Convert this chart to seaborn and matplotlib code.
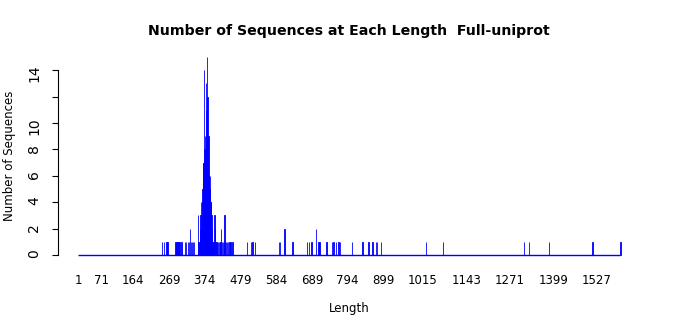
import numpy as np
import pandas as pd
import seaborn as sns
import matplotlib
matplotlib.use("Agg")
import matplotlib.pyplot as plt

# Sequence lengths with non-zero counts
lengths = [249, 253, 261, 264,
           288, 291, 294, 297, 300, 305,
           316, 319, 325, 328, 330, 333, 336, 340, 343,
           353, 355, 358, 360, 361, 363, 364, 366, 367, 368, 369, 370,
           371, 372, 373, 374, 375, 376, 377, 378, 379, 380, 381, 382,
           383, 384, 385, 386, 387, 388, 389, 390, 391, 392, 393, 394,
           395, 396, 397, 399, 400, 402, 404, 406, 408, 410, 412, 415,
           418, 420, 422, 424, 427, 430, 432, 434, 437, 440, 443, 447,
           450, 455,
           499, 510, 514, 522, 593, 596, 608, 632, 675, 680, 688, 700,
           708, 711, 732, 748, 752, 760, 767, 772, 807, 838, 855, 867,
           877, 880, 892, 1024, 1074, 1313, 1328, 1386, 1514, 1596]
counts = [1, 1, 1, 1,
          1, 1, 1, 1, 1, 1,
          1, 1, 1, 1, 2, 1, 1, 1, 1,
          3, 1, 1, 2, 3, 4, 2, 4, 5, 7, 6, 7,
          5, 14, 8, 6, 9, 7, 13, 11, 8, 9, 15, 12,
          9, 8, 9, 6, 6, 5, 6, 5, 4, 4, 2, 3,
          1, 2, 1, 1, 1, 3, 2, 1, 1, 1, 1, 1,
          1, 1, 2, 1, 1, 1, 3, 1, 1, 1, 1, 1,
          1, 1,
          1, 1, 1, 1, 1, 1, 2, 1, 1, 1, 1, 2,
          1, 1, 1, 1, 1, 1, 1, 1, 1, 1, 1, 1,
          1, 1, 1, 1, 1, 1, 1, 1, 1, 1]

min_len = 1
xtick_values = [1, 71, 164, 269, 374, 479, 584, 689, 794, 899, 1015, 1143, 1271, 1399, 1527]
ytick_values = [0, 2, 4, 6, 8, 10, 12, 14]
ytick_labels = ["0", "2", "4", "6", "8", "10", "", "14"]

title = "Number of Sequences at Each Length  Full-uniprot"

df = pd.DataFrame({"Length": lengths, "Count": counts})

sns.set_style("white")
plt.rcParams["font.family"] = ["DejaVu Sans"]
plt.rcParams["text.color"] = "black"
plt.rcParams["axes.labelcolor"] = "black"

fig = plt.figure(figsize=(7, 3.15), dpi=100)
ax = fig.add_axes([62 / 700, (315 - 262) / 315, (636 - 62) / 700, (262 - 50) / 315])

sns.barplot(data=df, x="Length", y="Count", native_scale=True, color="blue",
            edgecolor="blue", linewidth=0.6, errorbar=None, ax=ax, saturation=1,
            width=1.0)
# zero-count baseline across the full length range
ax.hlines(0, min_len, max(lengths), color="blue", linewidth=1.0)

ax.set_xlim(-46, 1642)
ax.set_ylim(-0.53, 15.53)

ax.set_xticks(xtick_values)
ax.set_xticklabels([str(v) for v in xtick_values], fontsize=8.5)
ax.tick_params(axis="x", length=0, pad=8.6, colors="black")

ax.set_yticks(ytick_values)
ax.set_yticklabels(ytick_labels, fontsize=8.5)
ax.tick_params(axis="y", length=4.3, width=0.8, pad=7.5, colors="black", left=True,
               labelrotation=90)
for lab in ax.get_yticklabels():
    lab.set_va("center")

for side in ["top", "right", "bottom"]:
    ax.spines[side].set_visible(False)
ax.spines["left"].set_bounds(0, 14)
ax.spines["left"].set_position(("outward", 3))
ax.spines["left"].set_color("black")
ax.spines["left"].set_linewidth(0.8)

ax.set_xlabel("Length", fontsize=8.5, labelpad=10.5, color="black")
ax.set_ylabel("Number of Sequences", fontsize=8.5, labelpad=8.5, color="black")
ax.set_title(title, fontsize=10.2, fontweight="bold", pad=11, color="black")

fig.savefig("out.png", dpi=100)
